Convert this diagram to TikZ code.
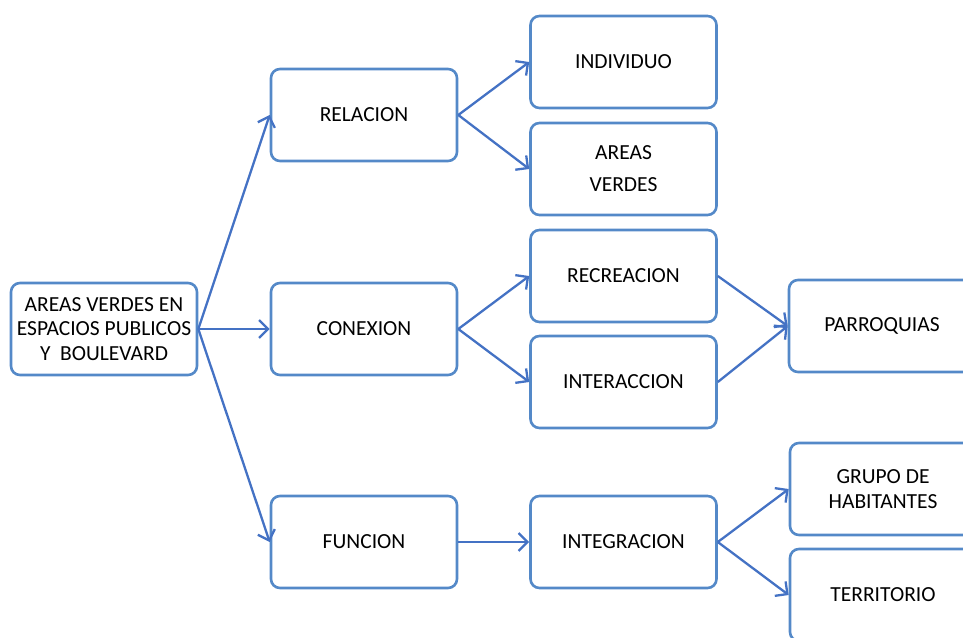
\documentclass[tikz,border=0pt]{standalone}
\usepackage{fontspec}
\setmainfont{Carlito}
\usetikzlibrary{arrows.meta}
\definecolor{boxc}{RGB}{84,137,200}
\definecolor{arrc}{RGB}{68,114,196}
\begin{document}
\begin{tikzpicture}[x=1pt,y=-1pt,
 box/.style={draw=boxc, line width=2.6pt, rounded corners=9pt, minimum width=186pt, minimum height=92pt, align=center, font=\fontsize{21.5}{24.5}\selectfont, inner sep=0pt},
 link/.style={draw=arrc, line width=2.3pt, -{Straight Barb[length=9pt,width=18pt]}}]
\useasboundingbox (0,0) rectangle (963,637);
\clip (0,0) rectangle (963,637);
\node[box] (main) at (104,329) {AREAS VERDES EN\\ESPACIOS PUBLICOS\\Y\ \ BOULEVARD};
\node[box] (rel) at (364,115) {RELACION};
\node[box] (con) at (364,329) {CONEXION};
\node[box] (fun) at (364,542) {FUNCION};
\node[box] (ind) at (623.5,62) {INDIVIDUO};
\node[box] (av) at (623.5,169) {AREAS\\[7.5pt]VERDES};
\node[box] (rec) at (623.5,276) {RECREACION};
\node[box] (int) at (623.5,382) {INTERACCION};
\node[box] (ing) at (623.5,542) {INTEGRACION};
\node[box] (par) at (882,326) {PARROQUIAS};
\node[box] (gru) at (883,489) {GRUPO DE\\HABITANTES};
\node[box] (ter) at (883,595) {TERRITORIO};
\draw[link] (main.east) -- (rel.west);
\draw[link] (main.east) -- (con.west);
\draw[link] (main.east) -- (fun.west);
\draw[link] (rel.east) -- (ind.west);
\draw[link] (rel.east) -- (av.west);
\draw[link] (con.east) -- (rec.west);
\draw[link] (con.east) -- (int.west);
\draw[link] (rec.east) -- (par.west);
\draw[link] (int.east) -- (par.west);
\draw[link] (fun.east) -- (ing.west);
\draw[link] (ing.east) -- (gru.west);
\draw[link] (ing.east) -- (ter.west);
\end{tikzpicture}
\end{document}
